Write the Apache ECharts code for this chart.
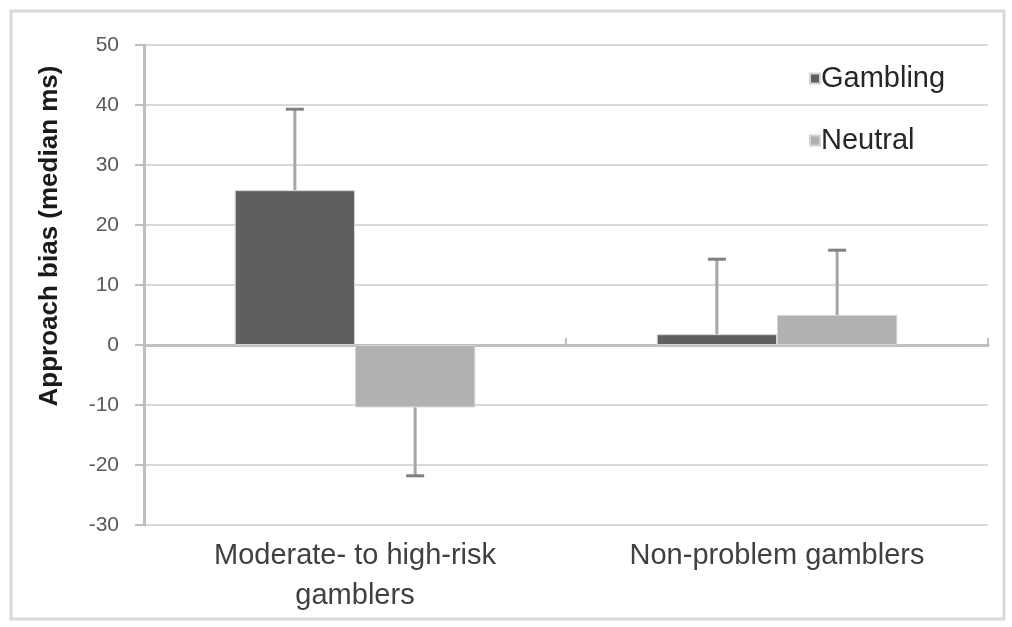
<!DOCTYPE html>
<html>
<head>
<meta charset="utf-8">
<script src="https://cdn.jsdelivr.net/npm/echarts@6/dist/echarts.min.js"></script>
<style>html,body{margin:0;padding:0;background:#fff;}#c{width:1012px;height:627px;}</style>
</head>
<body>
<div id="c"></div>
<script>
var categories = ['Moderate- to high-risk\ngamblers', 'Non-problem gamblers'];
var seriesNames = ['Gambling', 'Neutral'];
var gamblingValues = [25.8, 1.8];
var neutralValues = [-10.4, 5.0];
var gamblingErr = [13.5, 12.5];
var neutralErr = [11.4, 10.8];
var yTicks = [-30, -20, -10, 0, 10, 20, 30, 40, 50];
var yAxisTitle = 'Approach bias (median ms)';

var barCategoryGap = 0.43;
var colors = ['#5f5f5f', '#b1b1b1'];

function errorSeries(values, errs, seriesIdx) {
  var data = values.map(function (v, i) { return [i, v, errs[i]]; });
  return {
    type: 'custom',
    name: seriesNames[seriesIdx] + ' error',
    xAxisIndex: 0,
    yAxisIndex: 0,
    silent: true,
    z: 5,
    data: data,
    renderItem: function (params, api) {
      var idx = api.value(0);
      var v = api.value(1);
      var e = api.value(2);
      var end = v >= 0 ? v + e : v - e;
      var band = api.size([1, 0])[0];
      var bw = band * (1 - barCategoryGap) / 2;
      var off = seriesIdx === 0 ? -bw / 2 : bw / 2;
      var p0 = api.coord([idx, v]);
      var p1 = api.coord([idx, end]);
      var x = p0[0] + off;
      var cap = 9;
      return {
        type: 'group',
        children: [
          { type: 'line', shape: { x1: x, y1: p0[1], x2: x, y2: p1[1] }, style: { stroke: '#a6a6a6', lineWidth: 3 } },
          { type: 'line', shape: { x1: x - cap, y1: p1[1], x2: x + cap, y2: p1[1] }, style: { stroke: '#808080', lineWidth: 3 } }
        ]
      };
    }
  };
}

var chart = echarts.init(document.getElementById('c'));
chart.setOption({
  animation: false,
  backgroundColor: '#ffffff',
  grid: { left: 144, right: 24, top: 45, bottom: 102, containLabel: false },
  legend: {
    data: seriesNames,
    orient: 'vertical',
    left: 804,
    top: 59,
    itemGap: 33,
    itemWidth: 10,
    itemHeight: 10,
    icon: 'rect',
    textStyle: { fontFamily: 'Liberation Sans', fontSize: 29, color: '#262626', padding: [0, 0, 0, -4] }
  },
  xAxis: [
    {
      type: 'category',
      data: categories,
      position: 'bottom',
      axisLine: { show: false, onZero: false },
      axisTick: { show: false },
      axisLabel: { fontFamily: 'Liberation Sans', fontSize: 29, color: '#404040', margin: 11, lineHeight: 40 }
    },
    {
      type: 'category',
      data: categories,
      axisLine: { show: true, onZero: true, lineStyle: { color: '#bfbfbf', width: 3 } },
      axisTick: { show: true, length: 7, lineStyle: { color: '#bfbfbf', width: 2 } },
      axisLabel: { show: false },
      splitLine: { show: false }
    }
  ],
  yAxis: {
    type: 'value',
    min: yTicks[0],
    max: yTicks[yTicks.length - 1],
    interval: 10,
    axisLine: { show: true, lineStyle: { color: '#bfbfbf', width: 3 } },
    axisTick: { show: true, length: 9, lineStyle: { color: '#bfbfbf', width: 2 } },
    axisLabel: { fontFamily: 'Liberation Sans', fontSize: 21, color: '#595959', margin: 25 },
    splitLine: { show: true, lineStyle: { color: '#d9d9d9', width: 2 } }
  },
  series: [
    {
      name: seriesNames[0],
      type: 'bar',
      data: gamblingValues,
      barGap: '0%',
      barCategoryGap: (barCategoryGap * 100) + '%',
      itemStyle: { color: colors[0], borderColor: '#d4d4d4', borderWidth: 1 },
      z: 2
    },
    {
      name: seriesNames[1],
      type: 'bar',
      data: neutralValues,
      barGap: '0%',
      barCategoryGap: (barCategoryGap * 100) + '%',
      itemStyle: { color: colors[1], borderColor: '#d4d4d4', borderWidth: 1 },
      z: 2
    },
    errorSeries(gamblingValues, gamblingErr, 0),
    errorSeries(neutralValues, neutralErr, 1)
  ],
  graphic: [
    {
      type: 'rect',
      shape: { x: 11, y: 11, width: 993, height: 608 },
      style: { fill: 'none', stroke: '#d9d9d9', lineWidth: 3 },
      silent: true
    },
    {
      type: 'text',
      x: 50,
      y: 236,
      rotation: Math.PI / 2,
      style: {
        text: yAxisTitle,
        fontFamily: 'Liberation Sans',
        fontWeight: 'bold',
        fontSize: 26,
        fill: '#1a1a1a',
        textAlign: 'center',
        textVerticalAlign: 'middle'
      }
    }
  ]
});
</script>
</body>
</html>
